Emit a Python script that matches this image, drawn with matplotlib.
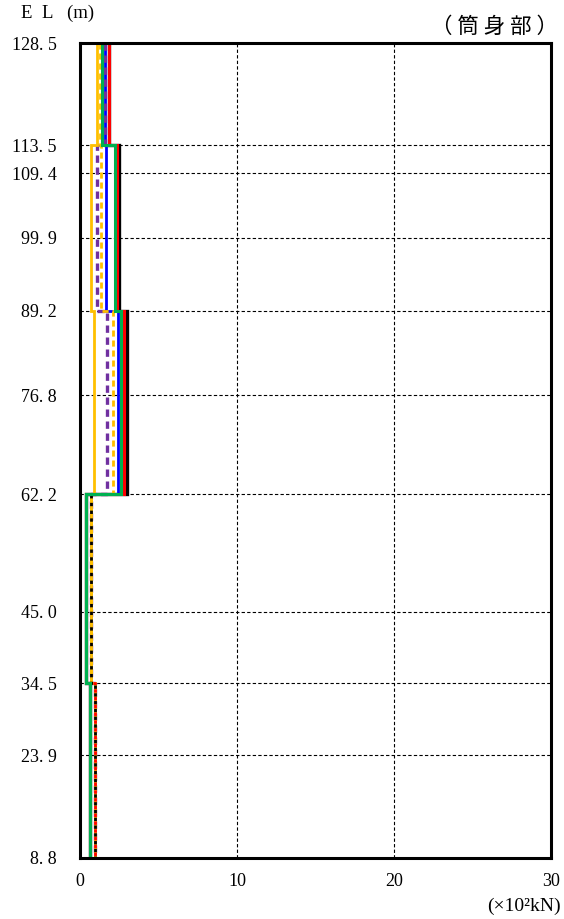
import matplotlib
matplotlib.use("Agg")
import matplotlib.pyplot as plt

# Elevation boundaries of the shaft sections (m), top to bottom
elevations = [128.5, 113.5, 89.2, 62.2, 34.5, 8.8]
ytick_values = [128.5, 113.5, 109.4, 99.9, 89.2, 76.8, 62.2, 45.0, 34.5, 23.9, 8.8]
ytick_labels = ["128. 5", "113. 5", "109. 4", "99. 9", "89. 2", "76. 8",
                "62. 2", "45. 0", "34. 5", "23. 9", "8. 8"]
xtick_values = [0, 10, 20, 30]

# Section force per segment (x10^2 kN), one value per section, top to bottom
black_solid = [1.82, 2.50, 3.00, 0.40, 0.63]
blue_solid = [1.60, 1.66, 2.44, 0.70, 0.93]
purple_dashed = [1.59, 1.08, 1.70, 0.70, 0.98]
yellow_dashed = [1.26, 1.36, 2.10, 0.70, 0.93]
yellow_solid = [1.06, 0.72, 0.90, 0.70, 0.93]
black_dashed = [1.82, 2.50, 3.00, 0.70, 0.93]
red_dashed = [1.82, 2.38, 2.80, 0.40, 0.93]
red_solid = [1.82, 2.38, 2.80, 0.40, 0.63]
green_solid = [1.42, 2.20, 2.61, 0.40, 0.63]

series = [
    (black_solid, "#000000", "-", 2.4),
    (blue_solid, "#0000ff", "-", 2.0),
    (purple_dashed, "#7030a0", (0, (2.2, 1.4)), 2.4),
    (yellow_dashed, "#ffc000", (0, (2.2, 1.4)), 2.0),
    (yellow_solid, "#ffc000", "-", 2.0),
    (black_dashed, "#000000", (0, (1.2, 1.6)), 2.0),
    (red_dashed, "#ff0000", (0, (1.2, 1.6)), 2.0),
    (red_solid, "#ff0000", "-", 2.2),
    (green_solid, "#00b050", "-", 2.2),
]


def step_path(values, edges):
    xs, ys = [], []
    for i, v in enumerate(values):
        xs += [v, v]
        ys += [edges[i], edges[i + 1]]
    return xs, ys


fig = plt.figure(figsize=(5.64, 9.19), dpi=100)
ax = fig.add_axes([80 / 564, 1 - 858 / 919, 471 / 564, 815 / 919])

for vals, color, ls, lw in series:
    xs, ys = step_path(vals, elevations)
    ax.plot(xs, ys, color=color, linestyle=ls, linewidth=lw,
            solid_joinstyle="miter", clip_on=True)

ax.set_xlim(0, 30)
ax.set_ylim(8.8, 128.5)
ax.set_xticks(xtick_values)
ax.set_xticklabels([str(v) for v in xtick_values])
ax.set_yticks(ytick_values)
ax.set_yticklabels(ytick_labels)

serif = "Liberation Serif"
for lab in ax.get_xticklabels() + ax.get_yticklabels():
    lab.set_fontfamily(serif)
    lab.set_fontsize(13)
ax.tick_params(axis="both", length=0)
ax.tick_params(axis="y", pad=17)
ax.tick_params(axis="x", pad=11)

ax.grid(True, color="black", linestyle=(0, (3, 2)), linewidth=0.8)
ax.set_axisbelow(True)
for sp in ax.spines.values():
    sp.set_linewidth(2.2)
    sp.set_color("black")

fig.text(21 / 564, 1 - 13 / 919, "E  L   (m)", fontfamily=serif, fontsize=13.5,
         ha="left", va="center")
fig.text(558 / 564, 1 - 27 / 919, "（ 筒 身 部 ）",
         fontfamily=["Noto Sans CJK JP", "DejaVu Sans"], fontsize=15.5,
         ha="right", va="center")
fig.text(561 / 564, 1 - 906 / 919, "(×10²kN)", fontfamily=serif, fontsize=14,
         ha="right", va="center")

fig.savefig("out.png", dpi=100)
